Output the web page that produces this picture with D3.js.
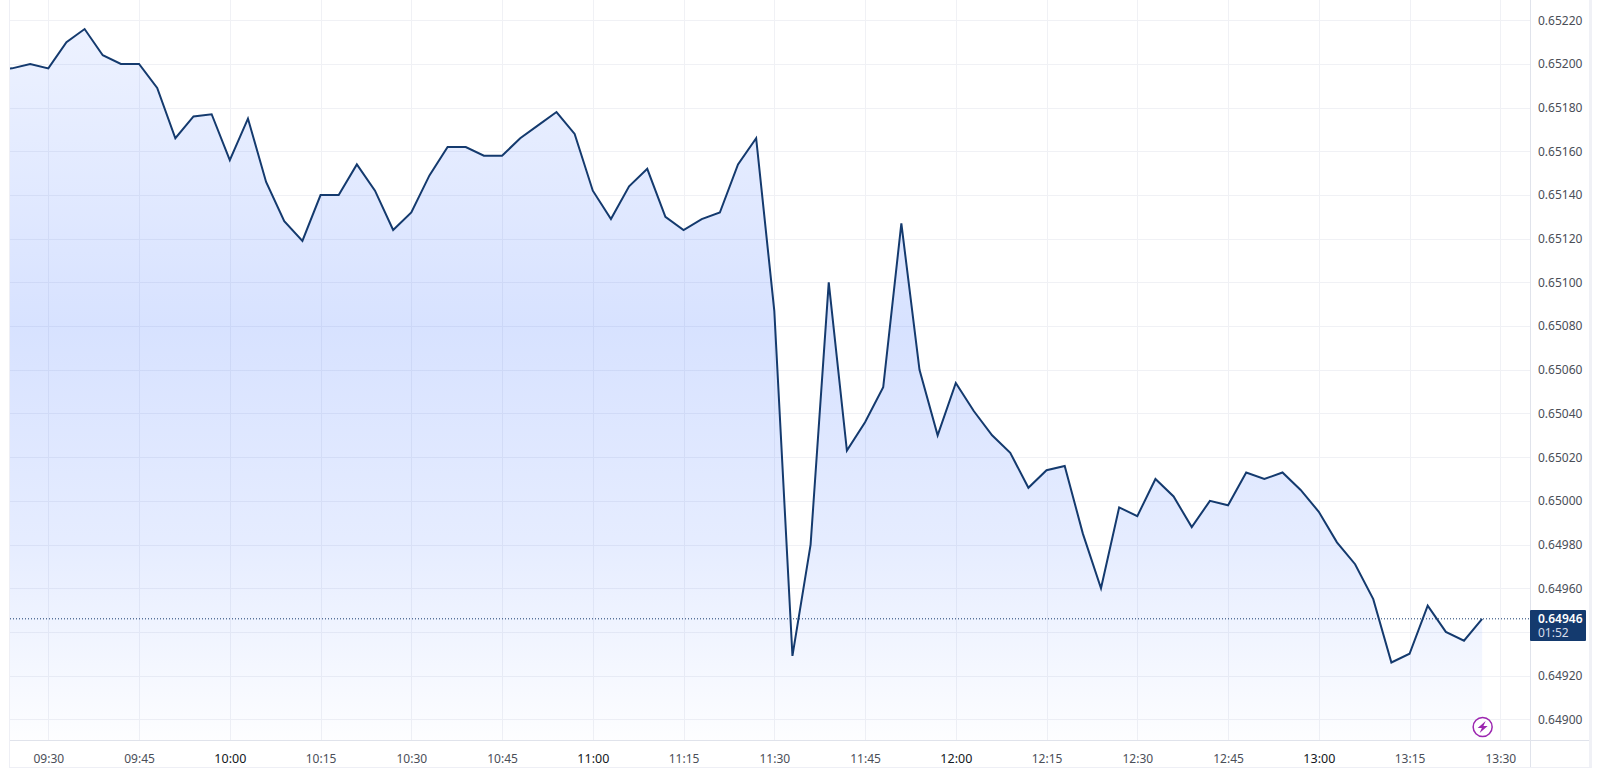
<!DOCTYPE html>
<html><head><meta charset="utf-8">
<script src="https://cdn.jsdelivr.net/npm/d3@7"></script>
<style>
html,body{margin:0;padding:0;background:#fff;overflow:hidden}
svg{display:block}
text{font-family:"Noto Sans",sans-serif}
</style></head><body>
<svg id="c" width="1600" height="768"></svg>
<script>
const startTime = "09:21";
const closes = [.65197,
.65198,.65200,.65198,.65210,.65216,.65204,.65200,.65200,.65189,.65166,.65176,.65177,
.65156,.65175,.65146,.65128,.65119,.65140,.65140,.65154,.65142,.65124,.65132,.65149,
.65162,.65162,.65158,.65158,.65166,.65172,.65178,.65168,.65142,.65129,.65144,.65152,
.65130,.65124,.65129,.65132,.65154,.65166,.65087,.64929,.64980,.65100,.65023,.65036,
.65052,.65127,.65060,.65030,.65054,.65041,.65030,.65022,.65006,.65014,.65016,.64985,
.64960,.64997,.64993,.65010,.65002,.64988,.65000,.64998,.65013,.65010,.65013,.65005,
.64995,.64981,.64971,.64955,.64926,.64930,.64952,.64940,.64936,.64946];
const stepMinutes = 3;
const priceGrid = [.65220,.65200,.65180,.65160,.65140,.65120,.65100,.65080,.65060,.65040,.65020,.65000,.64980,.64960,.64940,.64920,.64900];
const hiddenPriceTick = .64940;
const priceTicks = priceGrid.filter(v=>v!==hiddenPriceTick);
const timeTicks = ["09:30","09:45","10:00","10:15","10:30","10:45","11:00","11:15","11:30","11:45","12:00","12:15","12:30","12:45","13:00","13:15","13:30"];
const lastPrice = 0.64946, lastLabel = "0.64946", countdown = "01:52";

const parse = d3.timeParse("%H:%M");
const fmt = d3.timeFormat("%H:%M");
const start = parse(startTime);
const points = closes.map((v,i)=>({t:d3.timeMinute.offset(start,i*stepMinutes),v}));
const tickDates = timeTicks.map(parse);

const plotL=10, plotR=1530, plotB=740, outerR=1590, H=768;
const x = d3.scaleTime().domain([parse("09:30"),parse("13:30")]).range([48.3,1500.3]);
const y = d3.scaleLinear().domain([.64900,.65220]).range([719.3,20.3]);

const svg = d3.select("#c");
const defs = svg.append("defs");
defs.append("clipPath").attr("id","plot").append("rect")
  .attr("x",plotL).attr("y",0).attr("width",plotR-plotL).attr("height",plotB);
const g = defs.append("linearGradient").attr("id","fill").attr("gradientUnits","userSpaceOnUse")
  .attr("x1",0).attr("x2",0).attr("y1",29).attr("y2",plotB);
[[0,0.085],[0.42,0.185],[0.72,0.12],[1,0.01]].forEach(([o,a])=>g.append("stop").attr("offset",o).attr("stop-color","#2962ff").attr("stop-opacity",a));

const grid = svg.append("g").attr("stroke","#f0f1f5").attr("stroke-width",1);
grid.selectAll(".h").data(priceGrid).join("line").attr("class","h")
  .attr("x1",plotL).attr("x2",plotR)
  .attr("y1",d=>Math.round(y(d))+.5).attr("y2",d=>Math.round(y(d))+.5);
grid.selectAll(".v").data(tickDates).join("line").attr("class","v")
  .attr("x1",d=>Math.round(x(d))+.5).attr("x2",d=>Math.round(x(d))+.5)
  .attr("y1",0).attr("y2",plotB);

const plot = svg.append("g").attr("clip-path","url(#plot)");
plot.append("path").datum(points).attr("fill","url(#fill)")
  .attr("d",d3.area().x(d=>x(d.t)).y0(plotB).y1(d=>y(d.v)));

// borders
const bc="#e0e3eb";
svg.append("rect").attr("x",9).attr("y",0).attr("width",1).attr("height",H).attr("fill","#eeeff5");
svg.append("rect").attr("x",plotL).attr("y",plotB).attr("width",outerR-plotL).attr("height",1).attr("fill",bc);
svg.append("rect").attr("x",plotR).attr("y",0).attr("width",1).attr("height",H).attr("fill",bc);
svg.append("rect").attr("x",outerR-1).attr("y",0).attr("width",3).attr("height",H).attr("fill","#f0f1f6");
svg.append("rect").attr("x",9).attr("y",H-1).attr("width",1582).attr("height",1).attr("fill","#eeeff5");

// last price dotted line
svg.append("line").attr("x1",plotL).attr("x2",plotR)
  .attr("y1",y(lastPrice)).attr("y2",y(lastPrice))
  .attr("stroke","#143a6e").attr("stroke-width",1).attr("stroke-dasharray","1 2");

plot.append("path").datum(points).attr("fill","none").attr("stroke","#143a6e")
  .attr("stroke-width",2).attr("stroke-linejoin","miter")
  .attr("d",d3.line().x(d=>x(d.t)).y(d=>y(d.v)));

// axes
const yAxis = d3.axisRight(y).tickValues(priceTicks).tickFormat(d3.format(".5f")).tickSize(0).tickPadding(8);
const ya = svg.append("g").attr("transform",`translate(${plotR},0)`).call(yAxis);
ya.select(".domain").remove();
ya.selectAll("text").attr("font-size",12).attr("fill","#4a4e58").style("font-family",'"Noto Sans"');

const xAxis = d3.axisBottom(x).tickValues(tickDates).tickFormat(fmt).tickSize(0).tickPadding(0);
const xa = svg.append("g").attr("transform",`translate(0,${plotB})`).call(xAxis);
xa.select(".domain").remove();
xa.selectAll("text").attr("y",14).attr("dy",".71em")
  .attr("font-size",d=>d.getMinutes()===0?12.5:12)
  .attr("fill",d=>d.getMinutes()===0?"#131722":"#4a4e58")
  .attr("font-weight",400)
  .style("font-family",'"Noto Sans"');

// price label
const ly=y(lastPrice);
const lab=svg.append("g");
lab.append("rect").attr("x",plotR).attr("y",610).attr("width",56).attr("height",31).attr("rx",1).attr("fill","#143a6e");
lab.append("text").attr("x",1538).attr("y",ly+4.5).attr("font-size",12).attr("font-weight",600).attr("fill","#fff").text(lastLabel);
lab.append("text").attr("x",1538).attr("y",ly+18).attr("font-size",12).attr("fill","#d5dcea").text(countdown);

// bolt badge
const last=points[points.length-1];
const b=svg.append("g").attr("transform",`translate(${x(last.t)+.5},727)`);
b.append("circle").attr("r",9.5).attr("fill","#fff").attr("stroke","#9c27b0").attr("stroke-width",1.5);
b.append("path").attr("d","M3,-6 L-5,1 L-0.8,1 L-3,6 L5,-1 L0.8,-1 Z").attr("fill","#9c27b0");
</script></body></html>
